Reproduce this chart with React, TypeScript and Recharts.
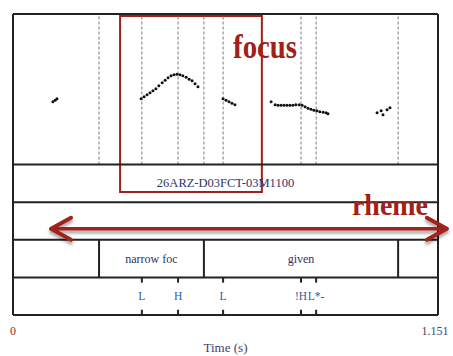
import {
  ComposedChart,
  ReferenceArea,
  ReferenceLine,
  Scatter,
  XAxis,
  YAxis,
} from 'recharts';

// pitch track (time in s, F0 in Hz)
const pitchTimes = [
  0.108, 0.114, 0.119,
  0.347, 0.355, 0.363, 0.371, 0.379, 0.387, 0.395, 0.404, 0.412, 0.42, 0.428, 0.436, 0.444, 0.452,
  0.46, 0.469, 0.477, 0.485, 0.493, 0.501,
  0.569, 0.577, 0.585, 0.593, 0.601,
  0.699, 0.71, 0.718, 0.726, 0.734, 0.742, 0.75, 0.758, 0.766, 0.775, 0.783, 0.791, 0.799, 0.807,
  0.815, 0.823, 0.831, 0.84, 0.848, 0.853,
  0.986, 0.997, 1.002, 1.013, 1.021,
];
const pitchHz = [
  225, 228, 231,
  231, 235, 239, 243, 247, 251, 257, 263, 268, 273, 277, 279, 280, 279,
  277, 274, 270, 267, 261, 255,
  231, 228, 225, 222, 219,
  225, 219, 218, 218, 218, 218, 218, 218, 219, 219, 218, 215, 212, 210,
  208, 207, 205, 204, 203, 201,
  203, 207, 199, 209, 213,
];

const DURATION = 1.151;
const fileName = '26ARZ-D03FCT-03M1100';

// interval tier
const intervalBounds = [0.233, 0.517, 1.043];
const intervalTexts = ['narrow foc', 'given'];

// point tier
const toneTimes = [0.349, 0.447, 0.569, 0.78, 0.821];
const toneTexts = ['L', 'H', 'L', '!H', 'L*-'];

// annotations
const focusBox = { x1: 0.29, x2: 0.674, y1: 3.27, y2: 7.95 };
const rhemeArrow = { from: 0.103, to: 1.175, y: 2.29 };

const SERIF = '"Liberation Serif", "Times New Roman", serif';
const RED = '#a2201a';
const INK = '#2f3468';

const pitch = pitchTimes.map((t, i) => ({ t, hz: pitchHz[i] }));

const tierLabels = [
  { t: DURATION / 2, y: 3.5, text: fileName, size: 12.5, color: INK },
  ...intervalTexts.map((text, i) => ({
    t: (intervalBounds[i] + intervalBounds[i + 1]) / 2,
    y: 1.5,
    text,
    size: 12,
    color: INK,
  })),
  ...toneTimes.map((t, i) => ({ t, y: 0.5, text: toneTexts[i], size: 11.5, color: '#2f5aa0' })),
];

const bigLabels = [
  { t: 0.596, y: 6.83, text: 'focus', size: 34, len: 64 },
  { t: 0.918, y: 2.66, text: 'rheme', size: 29, len: 76 },
];

const dotted = [...intervalBounds, ...toneTimes];

const PitchDot = (props: any) => <circle cx={props.cx} cy={props.cy} fill="#111" r={1.5} />;

const TierText = (props: any) => {
  const p = props.payload;
  return (
    <text
      dominantBaseline="central"
      fill={p.color}
      fontFamily={SERIF}
      fontSize={p.size}
      textAnchor="middle"
      x={props.cx}
      y={props.cy}
    >
      {p.text}
    </text>
  );
};

const BigText = (props: any) => {
  const p = props.payload;
  return (
    <text
      fill={RED}
      fontFamily={SERIF}
      fontSize={p.size}
      fontWeight="bold"
      lengthAdjust="spacingAndGlyphs"
      textLength={p.len}
      x={props.cx}
      y={props.cy}
    >
      {p.text}
    </text>
  );
};

const Arrow = (props: any) => {
  const { x1, y1, x2, y2 } = props;
  const y = (y1 + y2) / 2;
  return (
    <g>
      <defs>
        <filter height="300%" id="arrowShadow" width="120%" x="-10%" y="-100%">
          <feDropShadow dx="0" dy="3" floodColor="#000" floodOpacity="0.35" stdDeviation="1.5" />
        </filter>
      </defs>
      <g fill="none" filter="url(#arrowShadow)" stroke={RED} strokeLinecap="round" strokeLinejoin="round">
        <line strokeWidth={3.5} x1={x1} x2={x2} y1={y} y2={y} />
        <polyline points={`${x1 + 20},${y - 11} ${x1},${y} ${x1 + 20},${y + 11}`} strokeWidth={4} />
        <polyline points={`${x2 - 20},${y - 11} ${x2},${y} ${x2 - 20},${y + 11}`} strokeWidth={4} />
      </g>
    </g>
  );
};

const AxisTick = (props: any) => {
  const v = props.payload.value;
  return (
    <text
      fill={v === 0 ? '#9b2a22' : '#3c4470'}
      fontFamily={SERIF}
      fontSize={12}
      textAnchor="middle"
      x={props.x}
      y={props.y + 12}
    >
      {v === 0 ? '0' : String(v)}
    </text>
  );
};

export default function App() {
  return (
    <div style={{ width: 453, height: 356 }}>
      <style>{'body { margin: 0; }'}</style>
      <ComposedChart height={356} margin={{ top: 14, right: 15, left: 13, bottom: 0 }} width={453}>
        <XAxis
          allowDataOverflow
          axisLine={false}
          dataKey="t"
          domain={[0, DURATION]}
          height={41}
          label={{
            content: ({ viewBox }: any) => (
              <text
                fill="#3c4470"
                fontFamily={SERIF}
                fontSize={13}
                textAnchor="middle"
                x={viewBox.x + viewBox.width / 2}
                y={viewBox.y + 37}
              >
                Time (s)
              </text>
            ),
          }}
          tick={AxisTick}
          tickLine={false}
          ticks={[0, DURATION]}
          type="number"
        />
        <YAxis allowDataOverflow dataKey="y" domain={[0, 8]} hide type="number" yAxisId="tier" />
        <YAxis allowDataOverflow dataKey="hz" domain={[-200, 400]} hide type="number" yAxisId="pitch" />

        {dotted.map((t) => (
          <ReferenceLine
            key={`d${t}`}
            segment={[
              { x: t, y: 4 },
              { x: t, y: 8 },
            ]}
            stroke="#7a7a7a"
            strokeDasharray="3 2"
            strokeWidth={1}
            yAxisId="tier"
          />
        ))}
        {intervalBounds.map((t) => (
          <ReferenceLine
            key={`b${t}`}
            segment={[
              { x: t, y: 1 },
              { x: t, y: 2 },
            ]}
            stroke="#222"
            strokeWidth={2}
            yAxisId="tier"
          />
        ))}
        {toneTimes.flatMap((t) => [
          <ReferenceLine
            key={`tb${t}`}
            segment={[
              { x: t, y: 0 },
              { x: t, y: 0.14 },
            ]}
            stroke="#222"
            strokeWidth={2}
            yAxisId="tier"
          />,
          <ReferenceLine
            key={`tt${t}`}
            segment={[
              { x: t, y: 0.86 },
              { x: t, y: 1 },
            ]}
            stroke="#222"
            strokeWidth={2}
            yAxisId="tier"
          />,
        ])}
        {[0, 1, 2, 3, 4, 8].map((y) => (
          <ReferenceLine key={`h${y}`} stroke="#222" strokeWidth={2} y={y} yAxisId="tier" />
        ))}
        <ReferenceLine stroke="#222" strokeWidth={2} x={0} yAxisId="tier" />
        <ReferenceLine stroke="#222" strokeWidth={2} x={DURATION} yAxisId="tier" />

        <ReferenceArea
          fill="none"
          ifOverflow="visible"
          stroke={RED}
          strokeWidth={2}
          x1={focusBox.x1}
          x2={focusBox.x2}
          y1={focusBox.y1}
          y2={focusBox.y2}
          yAxisId="tier"
        />
        <ReferenceLine
          ifOverflow="visible"
          segment={[
            { x: rhemeArrow.from, y: rhemeArrow.y },
            { x: rhemeArrow.to, y: rhemeArrow.y },
          ]}
          shape={Arrow}
          yAxisId="tier"
        />

        <Scatter data={pitch} isAnimationActive={false} shape={PitchDot} yAxisId="pitch" />
        <Scatter data={tierLabels} isAnimationActive={false} shape={TierText} yAxisId="tier" />
        <Scatter data={bigLabels} isAnimationActive={false} shape={BigText} yAxisId="tier" />
      </ComposedChart>
    </div>
  );
}
